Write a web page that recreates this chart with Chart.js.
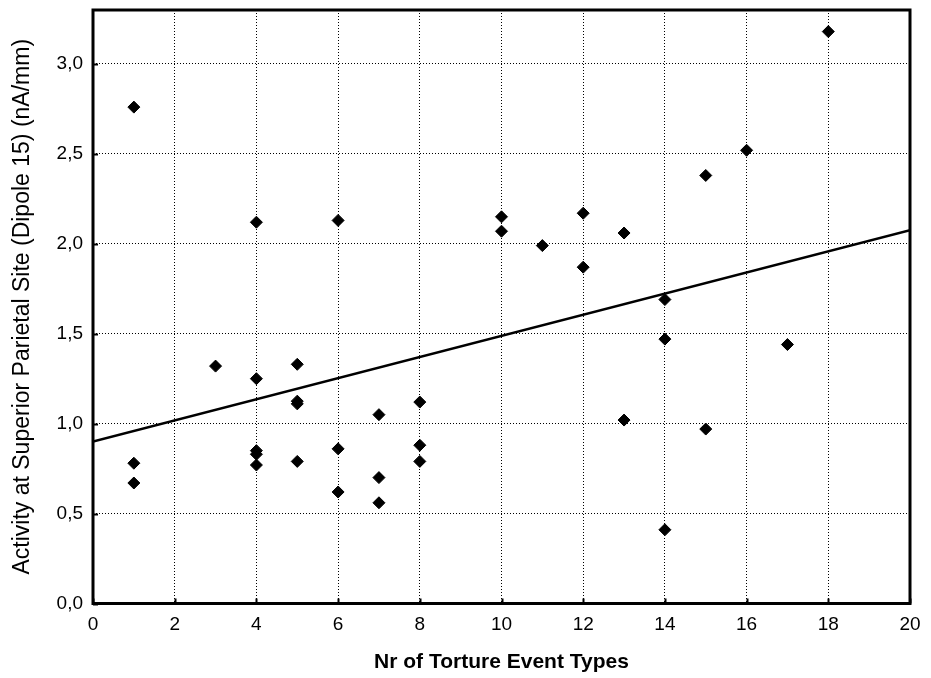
<!DOCTYPE html>
<html>
<head>
<meta charset="utf-8">
<script src="https://cdn.jsdelivr.net/npm/chart.js@4.4.0/dist/chart.umd.min.js"></script>
<style>
  html, body { margin: 0; padding: 0; background: #fff; }
  #wrap { width: 931px; height: 678px; }
</style>
</head>
<body>
<div id="wrap"><canvas id="c" width="931" height="678"></canvas></div>
<script>
// Scatter data: number of torture event types vs activity (nA/mm)
const xValues = [1, 1, 1, 3, 4, 4, 4, 4, 4, 5, 5, 5, 5, 6, 6, 6, 7, 7, 7, 8, 8, 8, 10, 10, 11, 12, 12, 13, 13, 14, 14, 14, 15, 15, 16, 17, 18];
const yValues = [2.76, 0.78, 0.67, 1.32, 2.12, 1.25, 0.85, 0.83, 0.77, 1.33, 1.125, 1.11, 0.79, 2.13, 0.86, 0.62, 1.05, 0.70, 0.56, 1.12, 0.88, 0.79, 2.15, 2.07, 1.99, 2.17, 1.87, 2.06, 1.02, 1.69, 1.47, 0.41, 2.38, 0.97, 2.52, 1.44, 3.18];
// fitted regression line
const fitX = [0, 20];
const fitY = [0.90, 2.075];
// axis ticks
const xTicks = [0, 2, 4, 6, 8, 10, 12, 14, 16, 18, 20];
const yTicks = [0.0, 0.5, 1.0, 1.5, 2.0, 2.5, 3.0];
const xTitle = 'Nr of Torture Event Types';
const yTitle = 'Activity at Superior Parietal Site (Dipole 15) (nA/mm)';

const points = xValues.map((x, i) => ({ x: x, y: yValues[i] }));
const fitPoints = fitX.map((x, i) => ({ x: x, y: fitY[i] }));

const framePlugin = {
  id: 'frame',
  afterDatasetsDraw(chart) {
    const { ctx, chartArea: a, scales } = chart;
    ctx.save();
    ctx.strokeStyle = '#000';
    ctx.lineWidth = 2;
    ctx.beginPath();
    xTicks.forEach(v => {
      const px = Math.round(scales.x.getPixelForValue(v)) + 0.5;
      ctx.moveTo(px, a.bottom);
      ctx.lineTo(px, a.bottom - 5);
    });
    yTicks.forEach(v => {
      const py = Math.round(scales.y.getPixelForValue(v)) + 0.5;
      ctx.moveTo(a.left, py);
      ctx.lineTo(a.left + 5, py);
    });
    ctx.stroke();
    ctx.lineWidth = 3;
    ctx.strokeRect(a.left, a.top, a.right - a.left, a.bottom - a.top);
    ctx.restore();
  }
};

const fontFamily = '"Liberation Sans", Arial, sans-serif';

new Chart(document.getElementById('c'), {
  type: 'scatter',
  data: {
    datasets: [
      {
        type: 'line',
        data: fitPoints,
        borderColor: '#000',
        borderWidth: 2.5,
        pointRadius: 0,
        fill: false,
        order: 1
      },
      {
        type: 'scatter',
        data: points,
        pointStyle: 'rectRot',
        pointRadius: 6,
        backgroundColor: '#000',
        borderColor: '#000',
        borderWidth: 1,
        order: 0
      }
    ]
  },
  options: {
    responsive: false,
    animation: false,
    events: [],
    layout: { padding: { top: 10, right: 21, left: 0, bottom: 0 } },
    plugins: { legend: { display: false }, tooltip: { enabled: false } },
    scales: {
      x: {
        type: 'linear',
        min: 0,
        max: 20,
        afterFit(s) { s.height = 74.5; },
        afterBuildTicks(s) { s.ticks = xTicks.map(v => ({ value: v })); },
        grid: { color: '#000', lineWidth: 1, drawTicks: false },
        border: { display: false, dash: [1, 2] },
        ticks: {
          padding: 10,
          color: '#000',
          font: { family: fontFamily, size: 19 },
          callback: v => String(v)
        },
        title: {
          display: true,
          text: xTitle,
          color: '#000',
          font: { family: fontFamily, size: 21, weight: 'bold' },
          padding: { top: 0, bottom: 3 }
        }
      },
      y: {
        type: 'linear',
        min: 0,
        max: 3.3,
        afterFit(s) { s.width = 93; s.paddingTop = 0; s.paddingBottom = 0; },
        afterBuildTicks(s) { s.ticks = yTicks.map(v => ({ value: v })); },
        grid: { color: '#000', lineWidth: 1, drawTicks: false },
        border: { display: false, dash: [1, 2] },
        ticks: {
          padding: 10,
          color: '#000',
          font: { family: fontFamily, size: 19 },
          callback: v => Number(v).toFixed(1).replace('.', ',')
        },
        title: {
          display: true,
          text: yTitle,
          color: '#000',
          font: { family: fontFamily, size: 23 },
          padding: { top: 9, bottom: 0 }
        }
      }
    }
  },
  plugins: [framePlugin]
});
</script>
</body>
</html>
